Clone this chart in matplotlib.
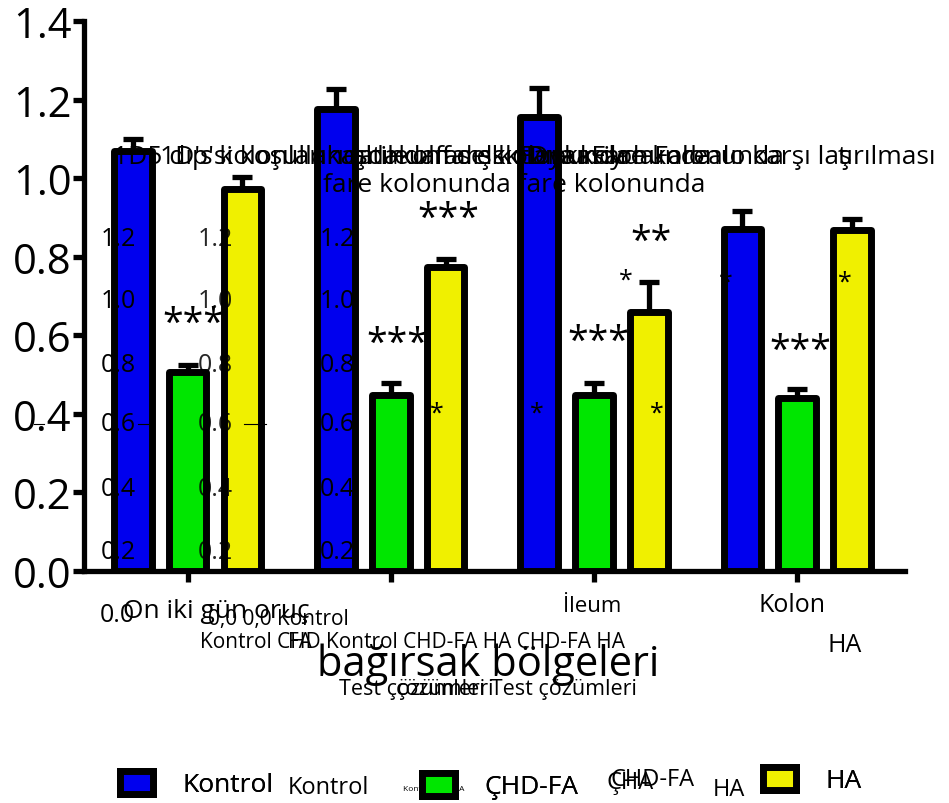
import matplotlib
matplotlib.use("Agg")
import matplotlib.pyplot as plt
import numpy as np

plt.rcParams['font.family'] = ['Open Sans', 'DejaVu Sans']

groups = ['Oruç', 'Jejunum', 'İleum', 'Kolon']
kontrol = [1.068, 1.176, 1.155, 0.870]
kontrol_err = [0.032, 0.050, 0.075, 0.046]
chd_fa = [0.506, 0.448, 0.448, 0.440]
chd_fa_err = [0.018, 0.030, 0.030, 0.023]
ha = [0.972, 0.773, 0.659, 0.868]
ha_err = [0.031, 0.021, 0.076, 0.028]

series = [(kontrol, kontrol_err, '#0000EE', 'Kontrol'),
          (chd_fa, chd_fa_err, '#00E600', 'ÇHD-FA'),
          (ha, ha_err, '#F0F000', 'HA')]

fig = plt.figure(figsize=(9.49, 8.04), dpi=100)
ax = fig.add_axes([0.0885, 0.2886, 0.865, 0.684])

x = np.arange(len(groups))
offset = 0.27
width = 0.185
handles = []
for i, (vals, errs, col, lab) in enumerate(series):
    pos = x + (i - 1) * offset
    b = ax.bar(pos, vals, width, color=col, edgecolor='black', linewidth=5,
               zorder=3, label=lab)
    for r in b:
        r.set_joinstyle('round')
    ax.errorbar(pos, vals, yerr=[np.zeros(len(errs)), errs], fmt='none',
                ecolor='black', elinewidth=3.8, capsize=7.5, capthick=3.8, zorder=2)
    handles.append(b)

ax.set_xlim(-0.51, 3.53)
ax.set_ylim(0, 1.4)
ax.set_yticks(np.arange(0, 1.41, 0.2))
ax.set_yticklabels(['0.0', '0.2', '0.4', '0.6', '0.8', '1.0', '1.2', '1.4'], fontsize=30)
ax.set_xticks(x)
ax.set_xticklabels([])
ax.tick_params(axis='both', width=3.8, length=8, direction='out')
ax.tick_params(axis='y', pad=1)
ax.spines['top'].set_visible(False)
ax.spines['right'].set_visible(False)
ax.spines['left'].set_linewidth(3.8)
ax.spines['bottom'].set_linewidth(3.8)

def ft(px, py, s, size, **kw):
    fig.text(px / 949, 1 - py / 804, s, fontsize=size, **kw)

# stars
for px, py, s, sz in [(193, 325, '***', 27), (397, 345, '***', 27), (448, 220, '***', 27),
                      (598, 343, '***', 27), (651, 243, '**', 27), (800, 352, '***', 27),
                      (626, 281, '*', 18), (437, 414, '*', 18), (537, 414, '*', 18),
                      (657, 414, '*', 18), (726, 283, '*', 18), (845, 283, '*', 18)]:
    ft(px, py, s, sz, ha='center', va='center')

# ghost inner tick labels
for col_x, alpha in [(118, 1.0), (215, 0.85), (337, 1.0)]:
    for py, s in [(240, '1.2'), (302, '1.0'), (365, '0.8'), (425, '0.6'), (490, '0.4'), (553, '0.2')]:
        ft(col_x, py, s, 18, ha='center', va='center', alpha=alpha)
for x0, x1 in [(34, 44), (138, 150), (244, 266)]:
    fig.add_artist(plt.Line2D([x0 / 949, x1 / 949], [1 - 425 / 804] * 2, color='black', lw=0.8))

# overlapping title texts
ft(113, 157, "1D5 dıp'si koşulları altında fare kolonunda", 19, va='center')
ft(160, 157, "1D's kolonlarında ileum dışkı Fare kolonunda", 19, va='center')
ft(320, 157, "ıkaşdakolfaselsk Dışkı Fare kolonunda", 19, va='center')
ft(520, 157, "tDyaasiydaFarealo karşı laş", 19, va='center')
ft(838, 157, "tırılması", 19, va='center')
ft(514, 185, "fare kolonunda fare kolonunda", 19, ha='center', va='center')

# bottom labels
ft(117, 616, '0.0', 18, ha='center', va='center')
ft(216, 612, 'On iki gün oruç', 19, ha='center', va='center')
ft(278, 620, '0,0 0,0 Kontrol', 15, ha='center', va='center')
ft(592, 607, 'İleum', 16, ha='center', va='center')
ft(792, 606, 'Kolon', 18, ha='center', va='center')
ft(412, 643, 'Kontrol CHD Kontrol CHD-FA HA CHD-FA HA', 15, ha='center', va='center')
ft(300, 643, 'FA', 15, ha='center', va='center')
ft(845, 645, 'HA', 18, ha='center', va='center')
ft(488, 665, 'bağırsak bölgeleri', 30, ha='center', va='center')
ft(488, 690, 'Test çözümleri Test çözümleri', 15.5, ha='center', va='center')
ft(445, 690, 'çözümleri', 15.5, ha='center', va='center')

# legend: one entry per box so the gaps can follow the reference
for h, lab, px, py in zip(handles, ['Kontrol', 'ÇHD-FA', 'HA'],
                          [120, 422, 763], [785, 787, 781]):
    lg = fig.legend([h], [lab], loc='center left',
                    bbox_to_anchor=(px / 949, 1 - py / 804), frameon=False,
                    fontsize=19, handlelength=1.25, handleheight=0.95,
                    handletextpad=1.1, borderpad=0, borderaxespad=0)
    fig.add_artist(lg)
ft(328, 788, 'Kontrol', 17, ha='center', va='center')
ft(434, 790, 'Kontrol CHD-FA', 6, ha='center', va='center')
ft(653, 780, 'CHD-FA', 17, ha='center', va='center')
ft(630, 783, 'ÇHA', 17, ha='center', va='center')
ft(729, 790, 'HA', 17, ha='center', va='center')

fig.savefig('out.png', dpi=100)
